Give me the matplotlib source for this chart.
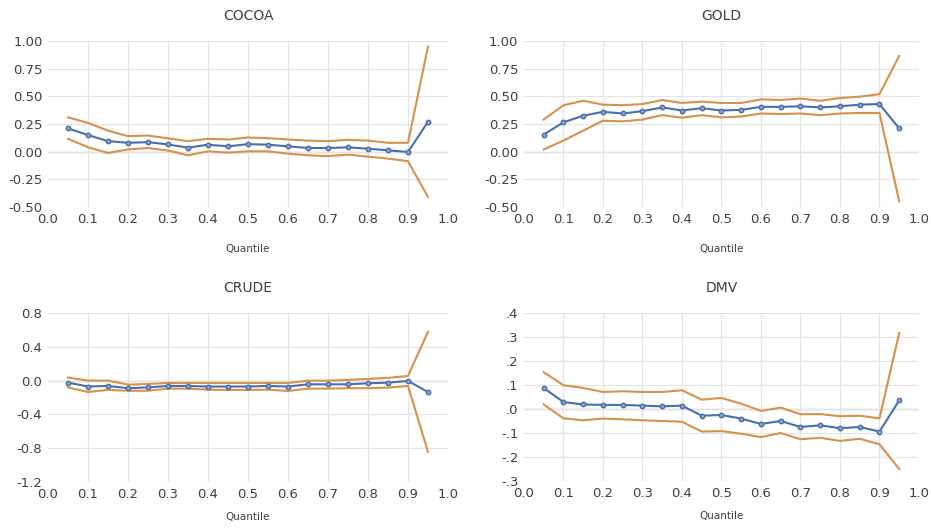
import matplotlib
matplotlib.use('Agg')
import matplotlib.pyplot as plt
from matplotlib.ticker import FuncFormatter
import numpy as np

quantiles = [0.05, 0.1, 0.15, 0.2, 0.25, 0.3, 0.35, 0.4, 0.45, 0.5,
             0.55, 0.6, 0.65, 0.7, 0.75, 0.8, 0.85, 0.9, 0.95]

cocoa_est = [0.21, 0.15, 0.095, 0.08, 0.086, 0.065, 0.036, 0.063, 0.048, 0.068,
             0.063, 0.048, 0.033, 0.033, 0.039, 0.027, 0.012, -0.003, 0.27]
cocoa_hi = [0.31, 0.26, 0.19, 0.14, 0.146, 0.12, 0.095, 0.116, 0.11, 0.128,
            0.122, 0.11, 0.10, 0.095, 0.107, 0.10, 0.08, 0.08, 0.95]
cocoa_lo = [0.116, 0.04, -0.012, 0.02, 0.033, 0.01, -0.033, 0.003, -0.009, 0.003,
            0.003, -0.018, -0.033, -0.04, -0.027, -0.045, -0.063, -0.086, -0.41]

gold_est = [0.155, 0.265, 0.325, 0.36, 0.345, 0.366, 0.40, 0.372, 0.393, 0.372,
            0.378, 0.405, 0.405, 0.41, 0.40, 0.41, 0.425, 0.43, 0.21]
gold_hi = [0.29, 0.42, 0.46, 0.425, 0.42, 0.43, 0.467, 0.44, 0.452, 0.44,
           0.44, 0.473, 0.467, 0.48, 0.46, 0.485, 0.497, 0.52, 0.866]
gold_lo = [0.02, 0.10, 0.19, 0.28, 0.274, 0.29, 0.33, 0.307, 0.33, 0.31,
           0.318, 0.345, 0.34, 0.345, 0.33, 0.345, 0.35, 0.35, -0.45]

crude_est = [-0.024, -0.07, -0.063, -0.09, -0.08, -0.063, -0.063, -0.07, -0.07, -0.07,
             -0.063, -0.07, -0.044, -0.044, -0.044, -0.032, -0.024, -0.004, -0.135]
crude_hi = [0.036, 0.0, 0.0, -0.048, -0.04, -0.028, -0.028, -0.028, -0.028, -0.028,
            -0.028, -0.028, 0.0, 0.0, 0.008, 0.02, 0.032, 0.055, 0.58]
crude_lo = [-0.08, -0.135, -0.11, -0.12, -0.12, -0.095, -0.095, -0.107, -0.11, -0.11,
            -0.107, -0.123, -0.095, -0.095, -0.09, -0.09, -0.083, -0.063, -0.845]

dmv_est = [0.0875, 0.029, 0.019, 0.017, 0.017, 0.014, 0.011, 0.014, -0.028, -0.025,
           -0.04, -0.0625, -0.05, -0.075, -0.068, -0.08, -0.075, -0.094, 0.036]
dmv_hi = [0.153, 0.099, 0.0875, 0.071, 0.074, 0.071, 0.071, 0.078, 0.039, 0.046,
          0.022, -0.008, 0.006, -0.022, -0.021, -0.03, -0.028, -0.039, 0.317]
dmv_lo = [0.019, -0.039, -0.047, -0.04, -0.043, -0.047, -0.05, -0.053, -0.094, -0.092,
          -0.103, -0.117, -0.1, -0.126, -0.12, -0.133, -0.124, -0.147, -0.25]

xticks = [0.0, 0.1, 0.2, 0.3, 0.4, 0.5, 0.6, 0.7, 0.8, 0.9, 1.0]

panels = [
    ('COCOA', cocoa_est, cocoa_hi, cocoa_lo, [-0.5, -0.25, 0.0, 0.25, 0.5, 0.75, 1.0], '%.2f'),
    ('GOLD', gold_est, gold_hi, gold_lo, [-0.5, -0.25, 0.0, 0.25, 0.5, 0.75, 1.0], '%.2f'),
    ('CRUDE', crude_est, crude_hi, crude_lo, [-1.2, -0.8, -0.4, 0.0, 0.4, 0.8], '%.1f'),
    ('DMV', dmv_est, dmv_hi, dmv_lo, [-0.3, -0.2, -0.1, 0.0, 0.1, 0.2, 0.3, 0.4], 'dmv'),
]

# axes rectangles in figure fractions (left, bottom, width, height)
rects = [
    (0.0516, 0.608, 0.4296, 0.3143),
    (0.5628, 0.608, 0.4243, 0.3143),
    (0.0516, 0.0871, 0.4296, 0.3201),
    (0.5628, 0.0890, 0.4243, 0.3182),
]
xlabel_pads = [13, 13, 8, 8]

blue = '#4a6fa8'
orange = '#d8914a'
textcol = '#404040'


def dmv_fmt(v, pos):
    s = '%.1f' % v
    s = s.replace('0.', '.')
    return s


fig = plt.figure(figsize=(9.31, 5.28), dpi=100)

for (title, est, hi, lo, yticks, fmt), rect, lp in zip(panels, rects, xlabel_pads):
    ax = fig.add_axes(rect)
    ax.plot(quantiles, hi, color=orange, lw=1.5, zorder=3)
    ax.plot(quantiles, lo, color=orange, lw=1.5, zorder=3)
    ax.plot(quantiles, est, color=blue, lw=1.5, marker='o', ms=3.2,
            mfc='#8aa6d0', mec=blue, mew=1.0, zorder=4)
    ax.set_xlim(0, 1)
    ax.set_ylim(yticks[0], yticks[-1])
    ax.set_xticks(xticks)
    ax.set_yticks(yticks)
    ax.set_xticklabels(['%.1f' % t for t in xticks])
    if fmt == 'dmv':
        ax.yaxis.set_major_formatter(FuncFormatter(dmv_fmt))
    else:
        ax.set_yticklabels([fmt % t for t in yticks])
    for s in ax.spines.values():
        s.set_visible(False)
    # horizontal grid, vertical grid only at the inner ticks
    ax.grid(True, axis='y', color='#e4e4e4', lw=0.9, zorder=0)
    for xv in xticks[1:-1]:
        ax.axvline(xv, color='#e4e4e4', lw=0.9, zorder=0)
    ax.axhline(0, color='#cfcfcf', lw=1.0, zorder=1)
    ax.tick_params(length=0, labelsize=9.5, colors=textcol, pad=4)
    ax.set_title(title, fontsize=10, color=textcol, pad=15)
    ax.set_xlabel('Quantile', fontsize=7.5, color=textcol, labelpad=lp)

plt.savefig('out.png', dpi=100)
